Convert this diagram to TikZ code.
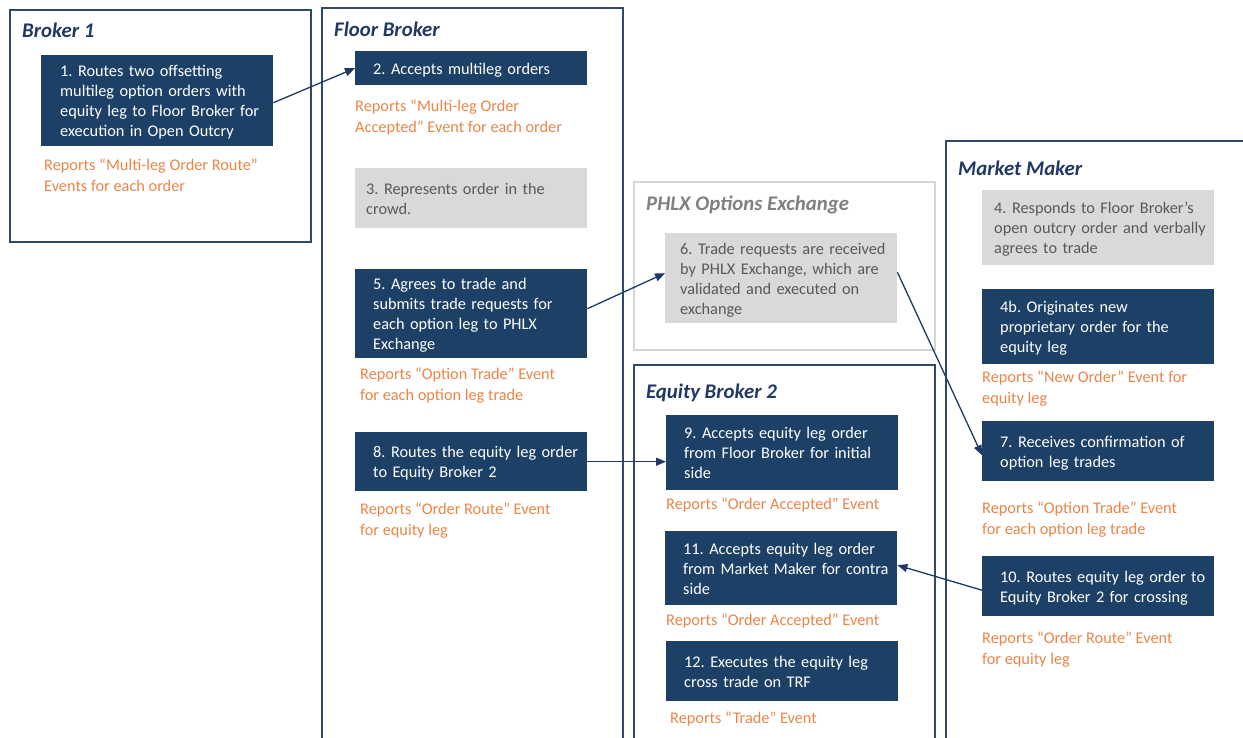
\documentclass[tikz,border=0pt]{standalone}
\usepackage{fontspec}
\setmainfont{Carlito}
\usepackage{xcolor}
\usepackage{tikz}
\usetikzlibrary{arrows.meta}
\frenchspacing
\definecolor{tasknavy}{RGB}{29,65,102}
\definecolor{lanenavy}{RGB}{44,74,110}
\definecolor{titlenavy}{RGB}{31,56,100}
\definecolor{crowdgray}{RGB}{217,217,217}
\definecolor{crowdtext}{RGB}{89,89,89}
\definecolor{lanegray}{RGB}{214,214,214}
\definecolor{reportorange}{RGB}{234,133,72}
\newcommand{\boxlines}[1]{\raisebox{-2pt}[\height][\depth]{\begin{tabular}{@{}l@{}}#1\end{tabular}}}

\begin{document}
\begin{tikzpicture}[x=1pt,y=-1pt,
  lane/.style={draw=lanenavy,line width=1.6pt},
  phlxlane/.style={draw=lanegray,line width=1.6pt},
  lanetitle/.style={anchor=base west,inner sep=0pt,text=titlenavy,
                    font=\fontsize{20.8}{24}\selectfont\bfseries\itshape},
  task/.style={anchor=north west,fill=tasknavy,text=white,minimum width=232pt,
               inner xsep=18pt,inner ysep=0pt,text width=196pt,align=left,
               font=\fontsize{16.3}{20}\selectfont},
  crowd/.style={task,fill=crowdgray,text=crowdtext,inner xsep=12pt,text width=208pt},
  report/.style={anchor=north west,inner sep=0pt,text=reportorange,
                 font=\fontsize{16.3}{21.5}\selectfont},
  arr/.style={-{Triangle[length=10pt,width=8pt]},line width=1.3pt,draw=titlenavy},
]
\useasboundingbox (0,0) rectangle (1243,738);

% swim lanes
\draw[lane]     (10,10)   rectangle (311,242);
\draw[lane]     (322,8)   rectangle (623,760);
\draw[phlxlane] (634,182) rectangle (935,350);
\draw[lane]     (634,365) rectangle (935,760);
\draw[lane]     (946,141) rectangle (1270,760);

\node[lanetitle] (tb1)   at (22,38)   {Broker 1};
\node[lanetitle] (tfb)   at (334,37)  {Floor Broker};
\node[lanetitle,text=gray] (tphlx) at (646,211) {PHLX Options Exchange};
\node[lanetitle] (teb2)  at (646,398) {Equity Broker 2};
\node[lanetitle] (tmm)   at (958,176) {Market Maker};

% Broker 1
\node[task,minimum height=91pt,inner xsep=19pt,text width=194pt] (b1) at (41,55)
  {\boxlines{1. Routes two offsetting\\multileg option orders with\\equity leg to Floor Broker for\\execution in Open Outcry}};
\node[report] (r1) at (44,153) {\boxlines{Reports “Multi-leg Order Route”\\Events for each order}};

% Floor Broker
\node[task,minimum height=34pt] (b2) at (355,51) {\boxlines{2. Accepts multileg orders}};
\node[report] (r2) at (355,94) {\boxlines{Reports “Multi-leg Order\\Accepted” Event for each order}};
\node[crowd,minimum height=60pt,inner xsep=11pt,text width=210pt] (b3) at (355,168)
  {\boxlines{3. Represents order in the\\crowd.}};
\node[task,minimum height=89pt] (b5) at (355,269)
  {\boxlines{5. Agrees to trade and\\submits trade requests for\\each option leg to PHLX\\Exchange}};
\node[report] (r5) at (360,362) {\boxlines{Reports “Option Trade” Event\\for each option leg trade}};
\node[task,minimum height=59pt] (b8) at (355,432)
  {\boxlines{8. Routes the equity leg order\\to Equity Broker 2}};
\node[report] (r8) at (360,497) {\boxlines{Reports “Order Route” Event\\for equity leg}};

% PHLX Options Exchange
\node[crowd,minimum height=90pt,inner xsep=15pt,text width=202pt] (b6) at (665,233)
  {\boxlines{6. Trade requests are received\\by PHLX Exchange, which are\\validated and executed on\\exchange}};

% Equity Broker 2
\node[task,minimum height=75pt] (b9) at (666,415)
  {\boxlines{9. Accepts equity leg order\\from Floor Broker for initial\\side}};
\node[report] (r9) at (666,492) {\boxlines{Reports “Order Accepted” Event}};
\node[task,minimum height=74pt] (b11) at (665,531)
  {\boxlines{11. Accepts equity leg order\\from Market Maker for contra\\side}};
\node[report] (r11) at (666,608) {\boxlines{Reports “Order Accepted” Event}};
\node[task,minimum height=60pt] (b12) at (666,641)
  {\boxlines{12. Executes the equity leg\\cross trade on TRF}};
\node[report] (r12) at (670,706) {\boxlines{Reports “Trade” Event}};

% Market Maker
\node[crowd,minimum height=75pt] (b4) at (982,190)
  {\boxlines{4. Responds to Floor Broker’s\\open outcry order and verbally\\agrees to trade}};
\node[task,minimum height=75pt] (b4b) at (982,289)
  {\boxlines{4b. Originates new\\proprietary order for the\\equity leg}};
\node[report] (r4b) at (982,365) {\boxlines{Reports “New Order” Event for\\equity leg}};
\node[task,minimum height=60pt] (b7) at (982,421)
  {\boxlines{7. Receives confirmation of\\option leg trades}};
\node[report] (r7) at (982,496) {\boxlines{Reports “Option Trade” Event\\for each option leg trade}};
\node[task,minimum height=60pt] (b10) at (982,556)
  {\boxlines{10. Routes equity leg order to\\Equity Broker 2 for crossing}};
\node[report] (r10) at (982,626) {\boxlines{Reports “Order Route” Event\\for equity leg}};

% flow
\draw[arr] ([yshift=-2pt]b1.east) -- (b2.west);
\draw[arr] ([yshift=5pt]b5.east) -- ([yshift=5pt]b6.west);
\draw[arr] ([yshift=6pt]b6.east) -- ([yshift=-4pt]b7.west);
\draw[arr] (b8.east) -- (b8.east -| b9.west);
\draw[arr] ([yshift=-4pt]b10.west) -- ([yshift=3pt]b11.east);
\end{tikzpicture}
\end{document}
